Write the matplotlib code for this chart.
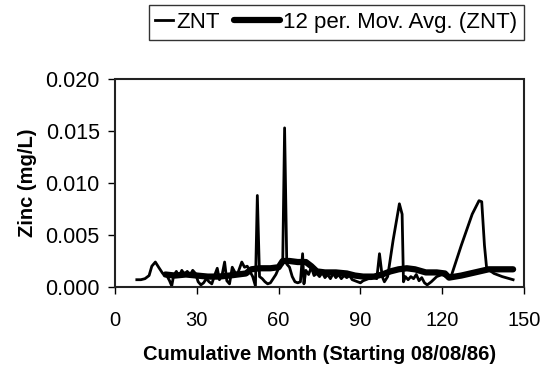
import matplotlib
matplotlib.use("Agg")
import matplotlib.pyplot as plt
from matplotlib.ticker import FormatStrFormatter
from matplotlib.legend_handler import HandlerLine2D

plt.rcParams['font.family'] = ['Liberation Sans', 'DejaVu Sans']

znt_month = [8.0, 9.5, 11, 12.5, 13.5, 14.8, 16, 17.5, 19, 20, 20.8, 21.5, 22.5, 23.5, 24.5,
             25.5, 26.5, 27.5, 28.5, 29.5, 30.5, 31.5, 32.5, 33.5, 34.5, 35.5, 36.5, 37.5,
             38.3, 39.3, 40.2, 41, 42, 43, 44, 45, 46.5, 47.5, 48.5, 49.5, 50.5, 51.5, 52.2,
             53, 54, 55, 56, 57, 58, 59, 60.5, 61.5, 62.2, 63, 64, 65, 66, 67, 68, 68.8, 69.3,
             70, 71, 72, 73, 74, 75, 76, 77, 78, 79, 80, 81, 82, 83, 84, 85, 86, 87, 88, 89,
             90, 91, 92, 93, 94, 95, 96, 97, 98, 98.8, 100, 102, 104.3, 105.3, 105.8, 106.5,
             107.5, 108.5, 109.5, 110.5, 111.5, 112.5, 113.5, 114.5, 116, 118, 120, 122,
             123.5, 127, 131, 133.5, 134.5, 135.5, 136.3, 139, 142, 146]
znt_value = [0.0007, 0.0007, 0.0008, 0.0011, 0.0020, 0.0024, 0.0019, 0.0013, 0.0011, 0.0006,
             0.0001, 0.0011, 0.0015, 0.0010, 0.0016, 0.0012, 0.0015, 0.0011, 0.0016, 0.0013,
             0.0005, 0.0002, 0.0004, 0.0008, 0.0005, 0.0003, 0.0011, 0.0018, 0.0007, 0.0012,
             0.0024, 0.0006, 0.0003, 0.0019, 0.0014, 0.0013, 0.0024, 0.0019, 0.0020, 0.0015,
             0.0010, 0.0001, 0.0088, 0.0010, 0.0008, 0.0005, 0.0003, 0.0004, 0.0008, 0.0012,
             0.0021, 0.0022, 0.0153, 0.0022, 0.0019, 0.0010, 0.0005, 0.0004, 0.0005, 0.0032,
             0.0003, 0.0016, 0.0012, 0.0019, 0.0011, 0.0013, 0.0010, 0.0014, 0.0009, 0.0012,
             0.0008, 0.0013, 0.0009, 0.0012, 0.0008, 0.0011, 0.0009, 0.0011, 0.0007, 0.0006,
             0.0005, 0.0004, 0.0006, 0.0007, 0.0008, 0.0008, 0.0009, 0.0008, 0.0032, 0.0010,
             0.0005, 0.0010, 0.0045, 0.0080, 0.0070, 0.0005, 0.0010, 0.0007, 0.0010, 0.0008,
             0.0012, 0.0006, 0.0009, 0.0004, 0.0002, 0.0005, 0.0010, 0.0012, 0.0009, 0.0012,
             0.0040, 0.0070, 0.0083, 0.0082, 0.0040, 0.0018, 0.0013, 0.0010, 0.0007]

ma_month = [18.5, 22, 26, 30, 34, 38, 42, 45, 48, 50, 53, 57, 60, 61.5, 64, 67, 70, 72, 74,
            77, 81, 85, 88, 91, 95, 98, 101, 104, 107, 110, 114, 118, 121, 122.5, 127, 132,
            137, 146]
ma_value = [0.0012, 0.0011, 0.0012, 0.0011, 0.0010, 0.0010, 0.0011, 0.0012, 0.0013, 0.0017,
            0.0018, 0.0018, 0.0019, 0.0025, 0.0025, 0.0024, 0.0024, 0.0020, 0.0015, 0.0014,
            0.0014, 0.0013, 0.0011, 0.0010, 0.0010, 0.0012, 0.0015, 0.0017, 0.0018, 0.0017,
            0.0014, 0.0014, 0.0013, 0.0009, 0.0011, 0.0014, 0.0017, 0.0017]

x_ticks = [0, 30, 60, 90, 120, 150]
y_ticks = [0.000, 0.005, 0.010, 0.015, 0.020]


class LeftExtendedLine(HandlerLine2D):
    """Legend line handle that reaches further to the left."""
    def __init__(self, extra_em, **kw):
        super().__init__(**kw)
        self.extra_em = extra_em

    def create_artists(self, legend, orig_handle, xdescent, ydescent, width, height,
                       fontsize, trans):
        ext = self.extra_em * fontsize
        return super().create_artists(legend, orig_handle, xdescent + ext, ydescent,
                                      width + ext, height, fontsize, trans)


fig = plt.figure(figsize=(5.43, 3.75), dpi=100)
ax = fig.add_axes([0.2118, 0.2347, 0.7532, 0.5546])

l1, = ax.plot(znt_month, znt_value, color='black', lw=2.0, label='ZNT')
l2, = ax.plot(ma_month, ma_value, color='black', lw=4.5, label='12 per. Mov. Avg. (ZNT)',
              solid_capstyle='round')

ax.set_xlim(0, 150)
ax.set_ylim(0, 0.020)
ax.set_xticks(x_ticks)
ax.set_yticks(y_ticks)
ax.yaxis.set_major_formatter(FormatStrFormatter('%.3f'))
ax.tick_params(direction='out', length=5, width=1, colors='black')
ax.tick_params(axis='x', labelsize=14.5, pad=12)
ax.tick_params(axis='y', labelsize=15.5, pad=6)
for s in ax.spines.values():
    s.set_linestyle((0, (1, 1)))
    s.set_linewidth(1.5)
    s.set_color('#222222')

ax.set_xlabel('Cumulative Month (Starting 08/08/86)', fontsize=14.5, fontweight='bold', labelpad=11)
ax.set_ylabel('Zinc (mg/L)', fontsize=14.5, fontweight='bold', labelpad=6)

leg = fig.legend(handles=[l1, l2], loc='center', bbox_to_anchor=(0.6195, 0.94), ncol=2,
                 frameon=True, fancybox=False, edgecolor='black', fontsize=16,
                 handlelength=0.8, handletextpad=0.15, columnspacing=1.9, borderpad=0.3,
                 borderaxespad=0, handler_map={l2: LeftExtendedLine(1.25)})
leg.get_frame().set_linewidth(1.0)

fig.savefig('out.png', dpi=100)
